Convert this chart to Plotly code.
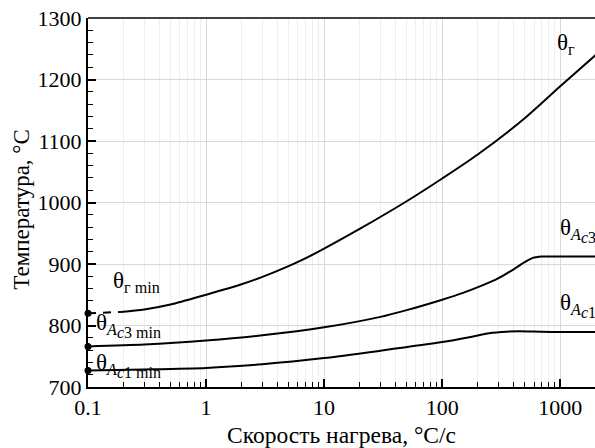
import numpy as np
import plotly.graph_objects as go

# Heating rate (°C/s) and temperatures (°C)
rate_g = [0.19, 0.3, 0.5, 1, 2, 3, 5, 7, 10, 20, 50, 100, 200, 500, 1000, 2000]
temp_g = [822, 826, 834, 850, 867, 879, 896.5, 909.5, 925, 957, 1002, 1039, 1078, 1137, 1189, 1240]
rate_g_dash = [0.1, 0.19]
temp_g_dash = [820, 822]

rate_ac3 = [0.1, 0.3, 1, 3, 10, 30, 50, 100, 150, 224, 300, 400, 500, 580, 700, 1000, 2000]
temp_ac3 = [766, 769, 775.5, 784, 797, 814, 825, 842, 853, 866, 877, 891, 903, 909.5, 912, 912, 912]

rate_ac1 = [0.1, 0.3, 1, 3, 10, 30, 100, 170, 250, 350, 450, 700, 1000, 2000]
temp_ac1 = [727, 728.5, 731, 737, 747, 759, 773, 781, 787.5, 790, 790.5, 789.8, 789.5, 789.5]

start_rate = [0.1, 0.1, 0.1]
start_temp = [820, 766, 727]

x_ticks = [0.1, 1, 10, 100, 1000]
x_ticktext = ["0.1", "1", "10", "100", "1000"]
y_ticks = [700, 800, 900, 1000, 1100, 1200, 1300]

FONT = "Liberation Serif, Times New Roman, serif"

fig = go.Figure()
line = dict(color="black", width=2)
fig.add_trace(go.Scatter(x=rate_g_dash, y=temp_g_dash, mode="lines",
                         line=dict(color="black", width=2, dash="8px,7px"), hoverinfo="skip"))
fig.add_trace(go.Scatter(x=rate_g, y=temp_g, mode="lines", line=dict(shape="spline", smoothing=0.8, **line)))
fig.add_trace(go.Scatter(x=rate_ac3, y=temp_ac3, mode="lines", line=dict(shape="spline", smoothing=0.7, **line)))
fig.add_trace(go.Scatter(x=rate_ac1, y=temp_ac1, mode="lines", line=dict(shape="spline", smoothing=0.7, **line)))
fig.add_trace(go.Scatter(x=start_rate, y=start_temp, mode="markers",
                         marker=dict(color="black", size=7), cliponaxis=False))

L, R, T, B = 87.5, 595.0, 18.3, 387.5
def px(x):
    return (x - L) / (R - L)
def py(y):
    return (B - y) / (B - T)

SUB = "<span style='font-size:16px'>"
labels = [
    ("θ<sub>г</sub>", 555, 44),
    ("θ<sub><i>A</i><sub>" + SUB + "<i>c</i>3</span></sub></sub>", 558, 231),
    ("θ<sub><i>A</i><sub>" + SUB + "<i>c</i>1</span></sub></sub>", 558, 306),
    ("θ<sub>г min</sub>", 111, 282),
    ("θ<sub><i>A</i><sub>" + SUB + "<i>c</i>3 min</span></sub></sub>", 94, 326),
    ("θ<sub><i>A</i><sub>" + SUB + "<i>c</i>1 min</span></sub></sub>", 94, 366),
]
for txt, x, y in labels:
    fig.add_annotation(text=txt, x=px(x), y=py(y), xref="paper", yref="paper",
                       xanchor="left", yanchor="middle", showarrow=False,
                       font=dict(family=FONT, size=23, color="black"))

# y-axis title
fig.add_annotation(text="Температура, °С", x=px(21), y=py(209.5),
                   xref="paper", yref="paper", xanchor="center", yanchor="middle",
                   textangle=-90, showarrow=False,
                   font=dict(family=FONT, size=23, color="black"))

fig.add_shape(type="line", xref="paper", yref="paper", x0=0, x1=1, y0=1, y1=1,
              line=dict(color="black", width=1.5))

fig.update_layout(
    width=595, height=448,
    margin=dict(l=L, r=0, t=T, b=448 - B),
    paper_bgcolor="white", plot_bgcolor="white",
    showlegend=False,
    font=dict(family=FONT, size=22, color="black"),
)
fig.update_xaxes(
    type="log", range=[-1, np.log10(1970)],
    tickvals=x_ticks, ticktext=x_ticktext,
    ticks="inside", ticklen=8, tickwidth=1.5, tickcolor="black",
    showline=True, linecolor="black", linewidth=2,
    showgrid=True, gridcolor="#d9d9d9", gridwidth=1,
    minor=dict(dtick="D1", ticks="inside", ticklen=5, tickwidth=1.2, tickcolor="black",
               showgrid=True, gridcolor="#eeeeee", gridwidth=1),
    title=dict(text="Скорость нагрева, °С/с", font=dict(family=FONT, size=23.5), standoff=9),
    tickfont=dict(family=FONT, size=22), zeroline=False,
)
fig.update_yaxes(
    range=[700, 1300], tickvals=y_ticks,
    ticks="inside", ticklen=8, tickwidth=1.5, tickcolor="black",
    showline=True, linecolor="black", linewidth=2,
    showgrid=True, gridcolor="#d9d9d9", gridwidth=1,
    minor=dict(dtick=20, ticks="inside", ticklen=5, tickwidth=1.2, tickcolor="black", showgrid=False),
    tickfont=dict(family=FONT, size=22), zeroline=False,
)

fig.write_html("out.html")
